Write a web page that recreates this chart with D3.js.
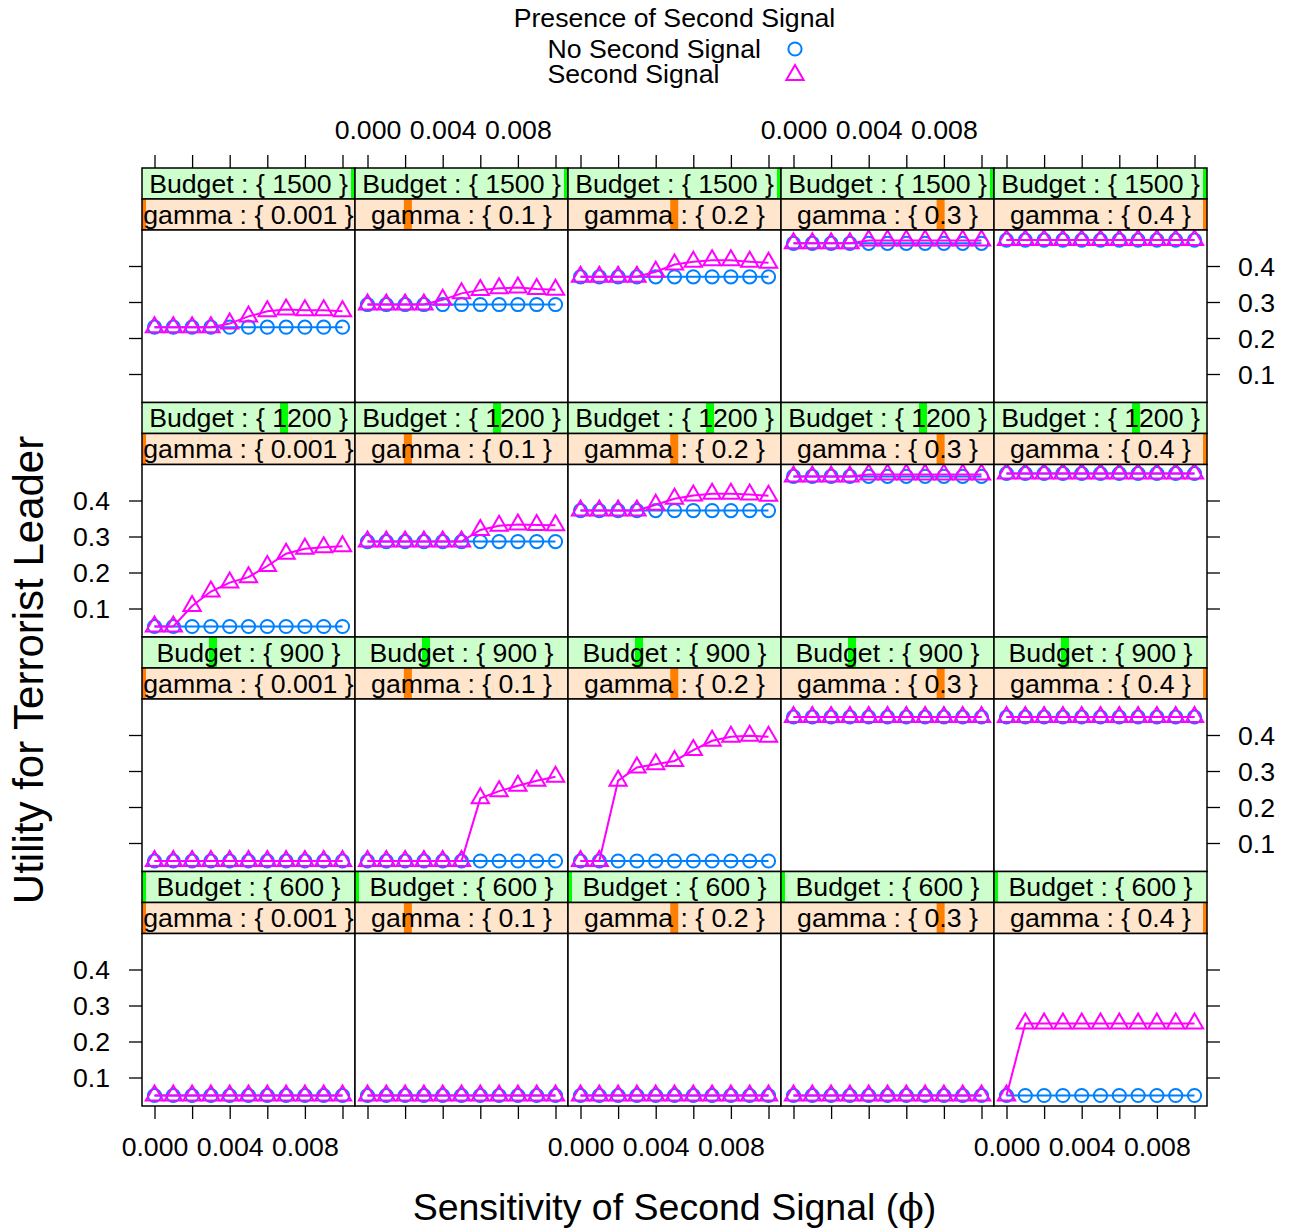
<!DOCTYPE html>
<html><head><meta charset="utf-8">
<script src="https://cdn.jsdelivr.net/npm/d3@7"></script>
<style>
body{margin:0;background:#fff}
svg{display:block}
text{font-family:"Liberation Sans",Arial,Helvetica,sans-serif;fill:#000}
</style>
</head><body>
<svg id="chart" width="1291" height="1230"></svg>
<script>
// ---------------- data ----------------
const budgetLabels = ["1500","1200","900","600"];
const budgetLevels = [1500,1200,900,600];
const gammaLabels = ["0.001","0.1","0.2","0.3","0.4"];
const gammaLevels = [0.001,0.1,0.2,0.3,0.4];
const phi = [0,0.001,0.002,0.003,0.004,0.005,0.006,0.007,0.008,0.009,0.010];
const xTicks = [0,0.002,0.004,0.006,0.008,0.010];
const xTickLabels = ["0.000","","0.004","","0.008",""];
const yTicks = [0.1,0.2,0.3,0.4];
const yTickLabels = ["0.1","0.2","0.3","0.4"];
const seriesNames = ["No Second Signal","Second Signal"];
const seriesColors = ["#0080ff","#ff00ff"];

// one array of 11 values per gamma level (columns), per budget (rows)
const noSignal1500 = [
  [0.230,0.230,0.230,0.230,0.230,0.230,0.230,0.230,0.230,0.230,0.230],
  [0.293,0.293,0.293,0.293,0.293,0.293,0.293,0.293,0.293,0.293,0.293],
  [0.370,0.370,0.370,0.370,0.370,0.370,0.370,0.370,0.370,0.370,0.370],
  [0.463,0.463,0.463,0.463,0.463,0.463,0.463,0.463,0.463,0.463,0.463],
  [0.472,0.472,0.472,0.472,0.472,0.472,0.472,0.472,0.472,0.472,0.472]
];
const signal1500 = [
  [0.230,0.230,0.230,0.230,0.240,0.260,0.274,0.279,0.277,0.277,0.274],
  [0.293,0.293,0.293,0.293,0.306,0.324,0.333,0.338,0.340,0.336,0.334],
  [0.370,0.370,0.370,0.370,0.384,0.404,0.412,0.416,0.416,0.412,0.409],
  [0.463,0.463,0.463,0.463,0.471,0.471,0.471,0.471,0.471,0.471,0.471],
  [0.472,0.472,0.472,0.472,0.472,0.472,0.472,0.472,0.472,0.472,0.472]
];
const noSignal1200 = [
  [0.050,0.050,0.050,0.050,0.050,0.050,0.050,0.050,0.050,0.050,0.050],
  [0.286,0.286,0.286,0.286,0.286,0.286,0.286,0.286,0.286,0.286,0.286],
  [0.372,0.372,0.372,0.372,0.372,0.372,0.372,0.372,0.372,0.372,0.372],
  [0.467,0.467,0.467,0.467,0.467,0.467,0.467,0.467,0.467,0.467,0.467],
  [0.475,0.475,0.475,0.475,0.475,0.475,0.475,0.475,0.475,0.475,0.475]
];
const signal1200 = [
  [0.050,0.050,0.107,0.147,0.172,0.187,0.218,0.252,0.266,0.270,0.273],
  [0.286,0.286,0.286,0.286,0.286,0.286,0.318,0.330,0.333,0.332,0.331],
  [0.372,0.372,0.372,0.372,0.388,0.405,0.414,0.419,0.419,0.417,0.413],
  [0.467,0.467,0.467,0.467,0.472,0.472,0.472,0.472,0.472,0.472,0.472],
  [0.475,0.475,0.475,0.475,0.475,0.475,0.475,0.475,0.475,0.475,0.475]
];
const noSignal900 = [
  [0.050,0.050,0.050,0.050,0.050,0.050,0.050,0.050,0.050,0.050,0.050],
  [0.050,0.050,0.050,0.050,0.050,0.050,0.050,0.050,0.050,0.050,0.050],
  [0.050,0.050,0.050,0.050,0.050,0.050,0.050,0.050,0.050,0.050,0.050],
  [0.450,0.450,0.450,0.450,0.450,0.450,0.450,0.450,0.450,0.450,0.450],
  [0.450,0.450,0.450,0.450,0.450,0.450,0.450,0.450,0.450,0.450,0.450]
];
const signal900 = [
  [0.050,0.050,0.050,0.050,0.050,0.050,0.050,0.050,0.050,0.050,0.050],
  [0.050,0.050,0.050,0.050,0.050,0.050,0.224,0.244,0.259,0.273,0.284],
  [0.050,0.050,0.273,0.310,0.319,0.328,0.358,0.384,0.395,0.398,0.395],
  [0.450,0.450,0.450,0.450,0.450,0.450,0.450,0.450,0.450,0.450,0.450],
  [0.450,0.450,0.450,0.450,0.450,0.450,0.450,0.450,0.450,0.450,0.450]
];
const noSignal600 = [
  [0.050,0.050,0.050,0.050,0.050,0.050,0.050,0.050,0.050,0.050,0.050],
  [0.050,0.050,0.050,0.050,0.050,0.050,0.050,0.050,0.050,0.050,0.050],
  [0.050,0.050,0.050,0.050,0.050,0.050,0.050,0.050,0.050,0.050,0.050],
  [0.050,0.050,0.050,0.050,0.050,0.050,0.050,0.050,0.050,0.050,0.050],
  [0.050,0.050,0.050,0.050,0.050,0.050,0.050,0.050,0.050,0.050,0.050]
];
const signal600 = [
  [0.050,0.050,0.050,0.050,0.050,0.050,0.050,0.050,0.050,0.050,0.050],
  [0.050,0.050,0.050,0.050,0.050,0.050,0.050,0.050,0.050,0.050,0.050],
  [0.050,0.050,0.050,0.050,0.050,0.050,0.050,0.050,0.050,0.050,0.050],
  [0.050,0.050,0.050,0.050,0.050,0.050,0.050,0.050,0.050,0.050,0.050],
  [0.050,0.250,0.250,0.250,0.250,0.250,0.250,0.250,0.250,0.250,0.250]
];
const noSignalRows = [noSignal1500, noSignal1200, noSignal900, noSignal600];
const signalRows = [signal1500, signal1200, signal900, signal600];

// ---------------- layout ----------------
const FS = 26.67;
const L = 142, W = 213, TOP = 168, SH = 31, PH = 172.5, RH = 234.5;
const NC = 5, NR = 4;
const tickLen = 13;

const svg = d3.select("#chart");
const x = d3.scaleLinear().domain([-0.000665, 0.010665]).range([0, W]);
const y = d3.scaleLinear().domain([0.5 - PH/360, 0.5]).range([PH, 0]);

const defs = svg.append("defs");
defs.append("clipPath").attr("id","panelClip").append("rect")
  .attr("x",0).attr("y",0).attr("width",W).attr("height",PH);

const triR = 10, circR = 6.6;
const triPath = (r) => `M0,${-r}L${r*0.866},${r/2}L${-r*0.866},${r/2}Z`;

const bScale = d3.scaleLinear().domain(d3.extent(budgetLevels)).range([0, W]);
const gScale = d3.scaleLinear().domain(d3.extent(gammaLevels)).range([0, W]);

function drawStrip(g, top, fill, barColor, barPos, label) {
  const s = g.append("g").attr("transform", `translate(0,${top})`);
  s.append("rect").attr("width", W).attr("height", SH).attr("fill", fill);
  const x0 = Math.max(0, barPos - 4), x1 = Math.min(W, barPos + 4);
  s.append("rect").attr("x", x0).attr("width", x1 - x0).attr("height", SH).attr("fill", barColor);
  s.append("rect").attr("width", W).attr("height", SH).attr("fill", "none")
    .attr("stroke", "#000").attr("stroke-width", 1.5);
  s.append("text").attr("x", W/2).attr("y", 24.5).attr("text-anchor","middle")
    .style("font-size", FS+"px").text(label);
}

function styleAxis(ax) {
  ax.select(".domain").remove();
  ax.selectAll("line").attr("stroke","#000").attr("stroke-width",1.3);
  ax.selectAll("text").style("font-size", FS+"px")
    .style("font-family", '"Liberation Sans",Arial,sans-serif').attr("fill","#000");
}

for (let r = 0; r < NR; r++) {
  for (let c = 0; c < NC; c++) {
    const gx = L + c*W, stripTop = TOP + r*RH, panelTop = stripTop + 2*SH;
    const g = svg.append("g").attr("transform", `translate(${gx},0)`);
    drawStrip(g, stripTop, "#ccffcc", "#00ff00", bScale(budgetLevels[r]), `Budget : { ${budgetLabels[r]} }`);
    drawStrip(g, stripTop + SH, "#ffe5cc", "#ff7f00", gScale(gammaLevels[c]), `gamma : { ${gammaLabels[c]} }`);

    const p = g.append("g").attr("transform", `translate(0,${panelTop})`);
    p.append("rect").attr("width", W).attr("height", PH).attr("fill", "#fff");
    const inner = p.append("g").attr("clip-path", "url(#panelClip)");
    const series = [noSignalRows[r][c], signalRows[r][c]];
    series.forEach((vals, si) => {
      const pts = phi.map((xv, i) => [x(xv), y(vals[i])]);
      inner.append("path").attr("d", d3.line()(pts)).attr("fill","none")
        .attr("stroke", seriesColors[si]).attr("stroke-width", 2);
      if (si === 0) {
        inner.selectAll(null).data(pts).enter().append("circle")
          .attr("cx", d => d[0]).attr("cy", d => d[1]).attr("r", circR)
          .attr("fill","none").attr("stroke", seriesColors[si]).attr("stroke-width", 2);
      } else {
        inner.selectAll(null).data(pts).enter().append("path")
          .attr("transform", d => `translate(${d[0]},${d[1]})`).attr("d", triPath(triR))
          .attr("fill","none").attr("stroke", seriesColors[si]).attr("stroke-width", 2);
      }
    });
    p.append("rect").attr("width", W).attr("height", PH).attr("fill","none")
      .attr("stroke","#000").attr("stroke-width",1.5);

    if (r === 0) {
      const labelled = (c % 2 === 1);
      const ax = g.append("g").attr("transform", `translate(0,${stripTop})`)
        .call(d3.axisTop(x).tickValues(xTicks).tickSize(tickLen).tickSizeOuter(0)
          .tickFormat((d,i) => labelled ? xTickLabels[i] : ""));
      styleAxis(ax);
      ax.selectAll("text").attr("y", -(168-139)).attr("dy", null);
    }
    if (r === NR - 1) {
      const labelled = (c % 2 === 0);
      const ax = g.append("g").attr("transform", `translate(0,${panelTop + PH})`)
        .call(d3.axisBottom(x).tickValues(xTicks).tickSize(tickLen).tickSizeOuter(0)
          .tickFormat((d,i) => labelled ? xTickLabels[i] : ""));
      styleAxis(ax);
      ax.selectAll("text").attr("y", 1156 - (panelTop + PH)).attr("dy", null);
    }
    if (c === 0) {
      const labelled = (r % 2 === 1);
      const ax = g.append("g").attr("transform", `translate(0,${panelTop})`)
        .call(d3.axisLeft(y).tickValues(yTicks).tickSize(tickLen).tickSizeOuter(0)
          .tickFormat((d,i) => labelled ? yTickLabels[i] : ""));
      styleAxis(ax);
      ax.selectAll("text").attr("x", -32).attr("dy","0.35em");
    }
    if (c === NC - 1) {
      const labelled = (r % 2 === 0);
      const ax = g.append("g").attr("transform", `translate(${W},${panelTop})`)
        .call(d3.axisRight(y).tickValues(yTicks).tickSize(tickLen).tickSizeOuter(0)
          .tickFormat((d,i) => labelled ? yTickLabels[i] : ""));
      styleAxis(ax);
      ax.selectAll("text").attr("x", 31).attr("dy","0.35em");
    }
  }
}

// ---------------- legend ----------------
const key = svg.append("g");
key.append("text").attr("x", 674.5).attr("y", 27).attr("text-anchor","middle")
  .style("font-size", FS+"px").text("Presence of Second Signal");
key.append("text").attr("x", 547.5).attr("y", 58).style("font-size", FS+"px").text(seriesNames[0]);
key.append("text").attr("x", 547.5).attr("y", 83).style("font-size", FS+"px").text(seriesNames[1]);
key.append("circle").attr("cx", 795).attr("cy", 49).attr("r", circR)
  .attr("fill","none").attr("stroke", seriesColors[0]).attr("stroke-width", 2);
key.append("path").attr("transform","translate(795,75)").attr("d", triPath(triR))
  .attr("fill","none").attr("stroke", seriesColors[1]).attr("stroke-width", 2);

// ---------------- axis titles ----------------
const xt = svg.append("text").attr("x", 674.5).attr("y", 1220).attr("text-anchor","middle")
  .style("font-size","37.5px");
xt.append("tspan").text("Sensitivity of Second Signal (");
xt.append("tspan").style("font-family",'"DejaVu Serif","Liberation Serif",serif').text("ϕ");
xt.append("tspan").text(")");

svg.append("text").attr("transform","translate(43,670) rotate(-90)").attr("text-anchor","middle")
  .style("font-size","42px").text("Utility for Terrorist Leader");
</script>
</body></html>
